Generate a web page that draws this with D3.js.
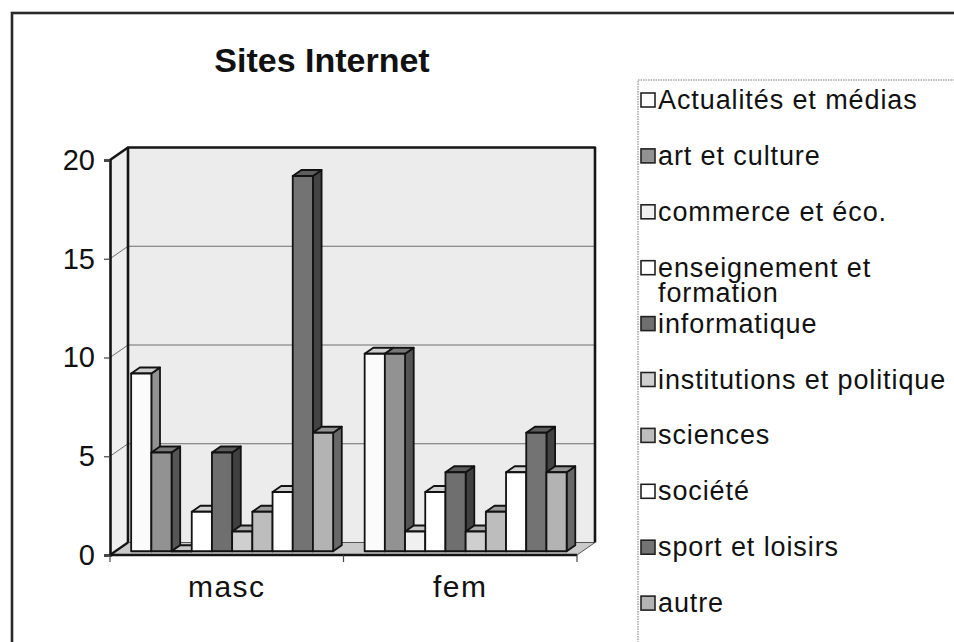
<!DOCTYPE html>
<html>
<head>
<meta charset="utf-8">
<script src="https://cdn.jsdelivr.net/npm/d3@7"></script>
<style>
  body { margin: 0; background: #fff; overflow: hidden; }
  svg { display: block; overflow: hidden; }
  text { font-family: "Liberation Sans", Arial, sans-serif; fill: #111; }
</style>
</head>
<body>
<svg id="chart" width="954" height="642"></svg>
<script>
// ---- data ----
const categories = ["masc", "fem"];
const seriesNames = [
  "Actualités et médias", "art et culture", "commerce et éco.",
  "enseignement et formation", "informatique", "institutions et politique",
  "sciences", "société", "sport et loisirs", "autre"
];
const mascValues = [9, 5, 0, 2, 5, 1, 2, 3, 19, 6];
const femValues  = [10, 10, 1, 3, 4, 1, 2, 4, 6, 4];
const seriesColors = [
  "#fbfbfb", "#929292", "#f0f0f0", "#ffffff", "#6f6f6f",
  "#cfcfcf", "#bdbdbd", "#ffffff", "#737373", "#b3b3b3"
];
const yTicks = [0, 5, 10, 15, 20];
const titleText = "Sites Internet";

const valuesByCategory = { masc: mascValues, fem: femValues };

// ---- layout ----
const svg = d3.select("#chart");
const plot = { left: 110, right: 577, bottom: 555, top: 160 };
const depth = { dx: 18, dy: -12.5 };   // offset from front plane to back wall
const barT0 = 0.3, barT1 = 0.78;       // bar depth between front and back

const x = d3.scaleBand().domain(categories)
  .range([plot.left, plot.right]).paddingInner(0.135).paddingOuter(0.0675);
const xs = d3.scaleBand().domain(d3.range(seriesNames.length))
  .range([0, x.bandwidth()]).padding(0);
const y = d3.scaleLinear().domain([0, 20]).range([plot.bottom, plot.top]);

// project a (screen x, value, depth t) triple to svg coords
const P = (px, v, t) => [px + depth.dx * t, y(v) + depth.dy * t];
const poly = pts => pts.map(p => p.join(",")).join(" ");

// outer chart frame (runs off the right and bottom edges)
svg.append("rect").attr("x", 12).attr("y", 13).attr("width", 1000).attr("height", 700)
  .attr("fill", "none").attr("stroke", "#2a2a2a").attr("stroke-width", 2.6);

// title
svg.append("text").attr("x", 322).attr("y", 72).attr("text-anchor", "middle")
  .attr("font-size", 34).attr("font-weight", "bold").text(titleText);

// ---- walls ----
const walls = svg.append("g");
walls.append("polygon")
  .attr("points", poly([P(plot.left, 0, 1), P(plot.right, 0, 1), P(plot.right, 20, 1), P(plot.left, 20, 1)]))
  .attr("fill", "#ececec").attr("stroke", "none");
walls.append("polygon")
  .attr("points", poly([P(plot.left, 0, 0), P(plot.left, 0, 1), P(plot.left, 20, 1), P(plot.left, 20, 0)]))
  .attr("fill", "#efefef").attr("stroke", "none");
walls.append("polygon")
  .attr("points", poly([P(plot.left, 0, 0), P(plot.right, 0, 0), P(plot.right, 0, 1), P(plot.left, 0, 1)]))
  .attr("fill", "#cacaca").attr("stroke", "#555").attr("stroke-width", 1);

// gridlines
yTicks.filter(v => v > 0 && v < 20).forEach(v => {
  walls.append("polyline")
    .attr("points", poly([P(plot.left, v, 0), P(plot.left, v, 1), P(plot.right, v, 1)]))
    .attr("fill", "none").attr("stroke", "#6e6e6e").attr("stroke-width", 1);
});

// wall edges
const edge = (pts, w) => walls.append("polyline").attr("points", poly(pts))
  .attr("fill", "none").attr("stroke", "#151515").attr("stroke-width", w)
  .attr("stroke-linejoin", "round");
edge([P(plot.left, 0, 1), P(plot.left, 20, 1), P(plot.right, 20, 1), P(plot.right, 0, 1)], 2.6);
edge([P(plot.left, 20, 0), P(plot.left, 20, 1)], 2.6);
edge([P(plot.left, 0, 0), P(plot.left, 0, 1)], 2.2);

// ---- bars ----
const bars = svg.append("g").attr("stroke", "#121212").attr("stroke-width", 1.8)
  .attr("stroke-linejoin", "round");
const shade = (c, k) => d3.interpolateRgb(c, "#000")(k);

categories.forEach(cat => {
  valuesByCategory[cat].forEach((v, i) => {
    const x0 = x(cat) + xs(i), x1 = x0 + xs.bandwidth();
    const c = seriesColors[i];
    const g = bars.append("g");
    g.append("polygon").attr("fill", shade(c, 0.42))
      .attr("points", poly([P(x1, 0, barT0), P(x1, 0, barT1), P(x1, v, barT1), P(x1, v, barT0)]));
    g.append("polygon").attr("fill", shade(c, 0.18))
      .attr("points", poly([P(x0, v, barT0), P(x1, v, barT0), P(x1, v, barT1), P(x0, v, barT1)]));
    g.append("polygon").attr("fill", c)
      .attr("points", poly([P(x0, 0, barT0), P(x1, 0, barT0), P(x1, v, barT0), P(x0, v, barT0)]));
  });
});

// ---- axes ----
const yAxis = svg.append("g").attr("transform", `translate(${plot.left},0)`)
  .call(d3.axisLeft(y).tickValues(yTicks).tickSize(6).tickPadding(9));
yAxis.select(".domain").attr("stroke", "#151515").attr("stroke-width", 2.6);
yAxis.selectAll(".tick line").attr("stroke", "#444").attr("stroke-width", 1.2);
yAxis.selectAll(".tick text").attr("font-size", 29).attr("fill", "#111")
  .attr("font-family", "Liberation Sans, Arial, sans-serif");

const xAxis = svg.append("g").attr("transform", `translate(0,${plot.bottom})`)
  .call(d3.axisBottom(x).tickSize(0).tickPadding(21));
xAxis.select(".domain").remove();
xAxis.selectAll(".tick text").attr("font-size", 30).attr("fill", "#111")
  .attr("letter-spacing", 1.5).attr("font-family", "Liberation Sans, Arial, sans-serif");
svg.append("line").attr("x1", plot.left).attr("x2", plot.right)
  .attr("y1", plot.bottom).attr("y2", plot.bottom)
  .attr("stroke", "#151515").attr("stroke-width", 2.4);
const boundaries = [plot.left, (plot.left + plot.right) / 2, plot.right];
svg.append("g").selectAll("line").data(boundaries).join("line")
  .attr("x1", d => d).attr("x2", d => d)
  .attr("y1", plot.bottom).attr("y2", plot.bottom + 7)
  .attr("stroke", "#444").attr("stroke-width", 1.2);

// ---- legend ----
const legend = svg.append("g");
legend.append("rect").attr("x", 638).attr("y", 80).attr("width", 400).attr("height", 640)
  .attr("fill", "#fff").attr("stroke", "#777").attr("stroke-width", 1)
  .attr("stroke-dasharray", "1.5,1");
const maxLabelWidth = 300;
const itemStep = 55.9;
const lineGap = 25;
seriesNames.forEach((name, i) => {
  const cy = 100 + i * itemStep;
  legend.append("rect").attr("x", 641).attr("y", cy - 7).attr("width", 14).attr("height", 14)
    .attr("fill", seriesColors[i]).attr("stroke", "#222").attr("stroke-width", 1.6);
  const t = legend.append("text").attr("x", 658).attr("y", cy + 9)
    .attr("font-size", 27).attr("letter-spacing", 0.9);
  // wrap long labels over two lines
  const words = name.split(" ");
  let line = [], tspan = t.append("tspan").attr("x", 658);
  words.forEach(w => {
    line.push(w);
    tspan.text(line.join(" "));
    if (tspan.node().getComputedTextLength() > maxLabelWidth && line.length > 1) {
      line.pop();
      tspan.text(line.join(" "));
      line = [w];
      tspan = t.append("tspan").attr("x", 658).attr("dy", lineGap).text(w);
    }
  });
});
</script>
</body>
</html>
